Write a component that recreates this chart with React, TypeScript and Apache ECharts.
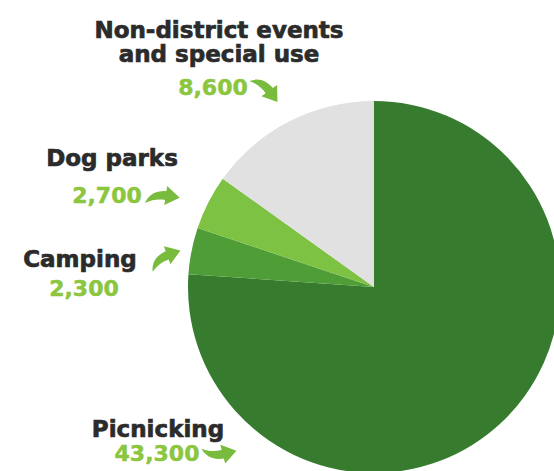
import React, { useEffect, useRef } from "react";
import * as echarts from "echarts";

// ---- data ----
const categories = ["Picnicking", "Camping", "Dog parks", "Non-district events\nand special use"];
const values = [43300, 2300, 2700, 8600];
const sliceColors = ["#367b2e", "#4f9d36", "#7ec243", "#e1e1e1"];

// ---- label layout (positions only) ----
const nameAnchors = [
  [158, 429],
  [80, 259],
  [112, 158],
  [219, 42],
];
const valueAnchors = [
  [157, 453],
  [84, 288],
  [107, 195],
  [213, 87],
];
// arrow: x, y, rotation (rad, ccw), flipY
const arrowAnchors = [
  [220, 454, 0.25, true],
  [165, 257, 0.35, false],
  [163, 196, -0.15, false],
  [267, 89, -0.95, false],
];

const ARROW_D =
  "M-19,11 C-16,0 -8,-5 3,-6 L3,-12 L19,-1 L3,10 L3,4 C-5,4 -12,6 -19,11 Z";

let registered = false;
function ensureShape() {
  if (registered) return;
  echarts.graphic.registerShape("curvedArrow", echarts.graphic.extendPath(ARROW_D, {}) as any);
  registered = true;
}

const FONT = "'DejaVu Sans', 'Liberation Sans', sans-serif";

export default function App() {
  const ref = useRef<HTMLDivElement>(null);

  useEffect(() => {
    if (!ref.current) return;
    ensureShape();
    const chart = echarts.init(ref.current, null, { renderer: "svg" });

    const graphics: any[] = [];
    categories.forEach((name, i) => {
      graphics.push({
        type: "text",
        x: nameAnchors[i][0],
        y: nameAnchors[i][1],
        silent: true,
        style: {
          text: name,
          fill: "#2b2b2b",
          stroke: "#2b2b2b",
          lineWidth: 0.7,
          fontFamily: FONT,
          fontWeight: "bold",
          fontSize: 23,
          lineHeight: 24,
          align: "center",
          verticalAlign: "middle",
        },
      });
      graphics.push({
        type: "text",
        x: valueAnchors[i][0],
        y: valueAnchors[i][1],
        silent: true,
        style: {
          text: values[i].toLocaleString("en-US"),
          fill: "#8cc63f",
          stroke: "#8cc63f",
          lineWidth: 0.5,
          fontFamily: FONT,
          fontWeight: "bold",
          fontSize: 22,
          align: "center",
          verticalAlign: "middle",
        },
      });
      const a = arrowAnchors[i] as any[];
      graphics.push({
        type: "curvedArrow",
        x: a[0],
        y: a[1],
        rotation: a[2],
        scaleX: 0.88,
        scaleY: a[3] ? -0.88 : 0.88,
        silent: true,
        style: { fill: "#79bb3d" },
      });
    });

    chart.setOption({
      animation: false,
      backgroundColor: "#ffffff",
      graphic: graphics,
      series: [
        {
          type: "pie",
          center: [374, 287],
          radius: 186,
          startAngle: 90,
          clockwise: true,
          silent: true,
          label: { show: false },
          labelLine: { show: false },
          itemStyle: { borderWidth: 0 },
          emphasis: { disabled: true },
          data: categories.map((c, i) => ({
            name: c,
            value: values[i],
            itemStyle: { color: sliceColors[i] },
          })),
        },
      ],
    });

    return () => chart.dispose();
  }, []);

  return (
    <div
      ref={ref}
      style={{ position: "fixed", left: 0, top: 0, width: 554, height: 471 }}
    />
  );
}
